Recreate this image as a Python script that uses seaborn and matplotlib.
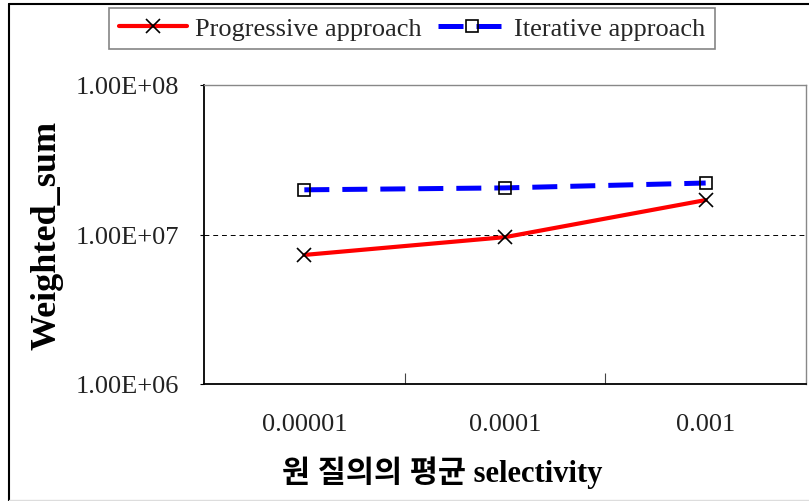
import matplotlib
matplotlib.use('Agg')
import matplotlib.pyplot as plt
from matplotlib.lines import Line2D
import seaborn as sns
import pandas as pd
import numpy as np

# 데이터
selectivity = ['0.00001', '0.0001', '0.001']
progressive = [7.3e6, 9.6e6, 1.70e7]
iterative = [1.99e7, 2.05e7, 2.21e7]
y_ticks = [1e6, 1e7, 1e8]
y_tick_labels = ['1.00E+06', '1.00E+07', '1.00E+08']

sns.set_theme(style='white')
plt.rcParams['font.family'] = ['Liberation Serif', 'Noto Sans CJK KR']

df = pd.DataFrame({
    'pos': list(range(len(selectivity))) * 2,
    'value': progressive + iterative,
    'series': ['Progressive approach'] * 3 + ['Iterative approach'] * 3,
})

fig = plt.figure(figsize=(8.09, 5.02), dpi=100)
ax = fig.add_axes([204 / 809, 1 - 385 / 502, 602 / 809, 299 / 502])

sns.lineplot(data=df[df.series == 'Progressive approach'], x='pos', y='value',
             color='#ff0000', lw=3, marker='x', ms=10, mec='black', mew=1.2,
             label='Progressive approach', ax=ax)
sns.lineplot(data=df[df.series == 'Iterative approach'], x='pos', y='value',
             color='#0000ff', lw=3.6, marker='s', ms=8, mec='black', mfc='none',
             mew=1.2, dashes=(5, 2.6), label='Iterative approach', ax=ax)

ax.set_yscale('log')
ax.set_ylim(1e6, 1e8)
ax.set_yticks(y_ticks)
ax.set_yticklabels(y_tick_labels)
ax.minorticks_off()
ax.set_xlim(-0.5, 2.5)
ax.set_xticks(range(len(selectivity)))
ax.set_xticklabels(selectivity)
ax.set_xticks([0.5, 1.5], minor=True)
ax.tick_params(axis='x', which='major', length=0, pad=21, labelsize=19, colors='#222222')
ax.tick_params(axis='x', which='minor', direction='in', length=8, width=0.8, color='#444444', bottom=True)
ax.tick_params(axis='y', length=3, width=0.8, color='black', left=True, pad=15, labelsize=19,
               labelcolor='#222222')

ax.yaxis.grid(True, which='major', color='black', ls=(0, (5, 4)), lw=0.7)
ax.xaxis.grid(False)

for s in ['left', 'bottom']:
    ax.spines[s].set_color('black')
    ax.spines[s].set_linewidth(1.3)
for s in ['top', 'right']:
    ax.spines[s].set_color('#888888')
    ax.spines[s].set_linewidth(1.0)

ax.set_xlabel('원 질의의 평균 selectivity', fontsize=22, fontweight='bold', color='black')
ax.xaxis.set_label_coords((442 - 204) / 602, -(456 - 385) / 299)
ax.set_ylabel('Weighted_sum', fontsize=26, fontweight='bold', color='black')
ax.yaxis.set_label_coords(-(204 - 64) / 602, 0.5)

handles, labels = ax.get_legend_handles_labels()
ax.get_legend().remove()
leg = fig.legend(handles, labels, loc='center', bbox_to_anchor=(412 / 809, 1 - 29.5 / 502),
                 ncol=2, fontsize=19, frameon=True, fancybox=False, edgecolor='#666666',
                 handlelength=2.6, handletextpad=0.3, columnspacing=0.6, borderpad=0.35,
                 borderaxespad=0)
leg.get_frame().set_linewidth(1.2)

# 그림 테두리
fig.add_artist(Line2D([9 / 809, 1], [1 - 5 / 502, 1 - 5 / 502], color='black', lw=1.5))
fig.add_artist(Line2D([9 / 809, 9 / 809], [0, 1 - 5 / 502], color='black', lw=1.5))
fig.add_artist(Line2D([9 / 809, 1], [1 / 502, 1 / 502], color='#dddddd', lw=1))

fig.savefig('out.png', dpi=100, facecolor='white')
